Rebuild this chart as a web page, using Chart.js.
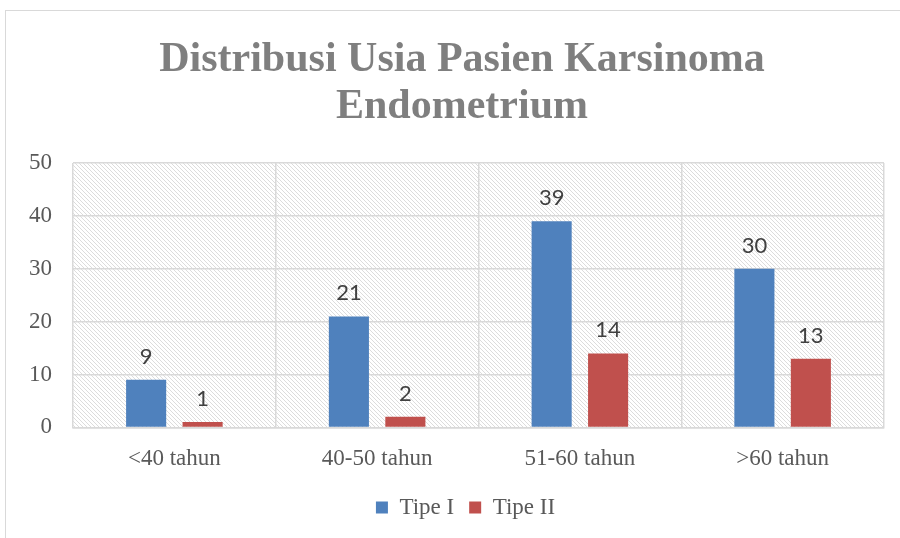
<!DOCTYPE html>
<html>
<head>
<meta charset="utf-8">
<script src="https://cdn.jsdelivr.net/npm/chart.js@4.4.0/dist/chart.umd.min.js"></script>
<style>
  html, body { margin: 0; padding: 0; background: #fff; }
  #wrap { width: 900px; height: 538px; position: relative; }
</style>
</head>
<body>
<div id="wrap"><canvas id="grafik" width="900" height="538"></canvas></div>
<script>
// ===== Datos =====
const kategori = ['<40 tahun', '40-50 tahun', '51-60 tahun', '>60 tahun'];
const tipeI  = [9, 21, 39, 30];
const tipeII = [1, 2, 14, 13];
const judul = ['Distribusi Usia Pasien Karsinoma', 'Endometrium'];

const SERIF = '"Liberation Serif", "Times New Roman", serif';

// patrón de rayas diagonales para el fondo del área
function makeHatch() {
  const c = document.createElement('canvas');
  c.width = 4; c.height = 4;
  const g = c.getContext('2d');
  g.fillStyle = '#ffffff';
  g.fillRect(0, 0, 4, 4);
  g.strokeStyle = '#dcdcdc';
  g.lineWidth = 1;
  g.beginPath();
  g.moveTo(-1, -1); g.lineTo(5, 5);
  g.moveTo(-1, 3); g.lineTo(1, 5);
  g.moveTo(3, -1); g.lineTo(5, 1);
  g.stroke();
  return g.createPattern(c, 'repeat');
}

const fondoPlugin = {
  id: 'fondo',
  // el marco original es más ancho que la imagen: centramos título y leyenda más a la derecha
  afterLayout(chart) {
    if (chart.titleBlock) chart.titleBlock.left += 32;
    if (chart.legend) chart.legend.left += 39;
  },
  beforeDraw(chart) {
    const { ctx, chartArea: a } = chart;
    ctx.save();
    ctx.strokeStyle = '#d9d9d9';
    ctx.lineWidth = 1;
    ctx.strokeRect(5.5, 10.5, 1000, 1000);
    ctx.fillStyle = makeHatch();
    ctx.fillRect(a.left, a.top, a.right - a.left, a.bottom - a.top);
    ctx.restore();
  }
};

// valores encima de cada barra
const etiquetasPlugin = {
  id: 'etiquetas',
  afterDatasetsDraw(chart) {
    const { ctx } = chart;
    ctx.save();
    ctx.font = '22px Lato, "Open Sans", sans-serif';
    ctx.fillStyle = '#404040';
    ctx.textAlign = 'center';
    ctx.textBaseline = 'alphabetic';
    chart.data.datasets.forEach((ds, i) => {
      chart.getDatasetMeta(i).data.forEach((bar, j) => {
        ctx.fillText(String(ds.data[j]), bar.x, bar.y - 16);
      });
    });
    ctx.restore();
  }
};

new Chart(document.getElementById('grafik'), {
  type: 'bar',
  data: {
    labels: kategori,
    datasets: [
      { label: 'Tipe I',  data: tipeI,  backgroundColor: '#4f81bd', barPercentage: 0.71, categoryPercentage: 0.557 },
      { label: 'Tipe II', data: tipeII, backgroundColor: '#c0504d', barPercentage: 0.71, categoryPercentage: 0.557 }
    ]
  },
  options: {
    responsive: false,
    animation: false,
    layout: { padding: { left: 8, right: 16, top: 29, bottom: 9 } },
    plugins: {
      title: {
        display: true,
        text: judul,
        color: '#7f7f7f',
        font: { family: SERIF, size: 42, weight: 'bold', lineHeight: 1.12 },
        padding: { top: 8, bottom: 32 }
      },
      legend: {
        position: 'bottom',
        labels: {
          color: '#595959',
          font: { family: SERIF, size: 23 },
          boxWidth: 12, boxHeight: 12, padding: 15
        }
      },
      tooltip: { enabled: false }
    },
    scales: {
      x: {
        grid: { color: '#d9d9d9', lineWidth: 1.5, drawTicks: false },
        border: { color: '#d9d9d9', width: 1.5 },
        ticks: { color: '#595959', font: { family: SERIF, size: 23 }, padding: 18 },
        afterFit: (scale) => { scale.height -= 10; }
      },
      y: {
        min: 0, max: 50,
        grid: { color: '#d9d9d9', lineWidth: 1.5, drawTicks: false },
        border: { display: false },
        ticks: { stepSize: 10, color: '#595959', font: { family: SERIF, size: 23 }, padding: 21 }
      }
    }
  },
  plugins: [fondoPlugin, etiquetasPlugin]
});
</script>
</body>
</html>
